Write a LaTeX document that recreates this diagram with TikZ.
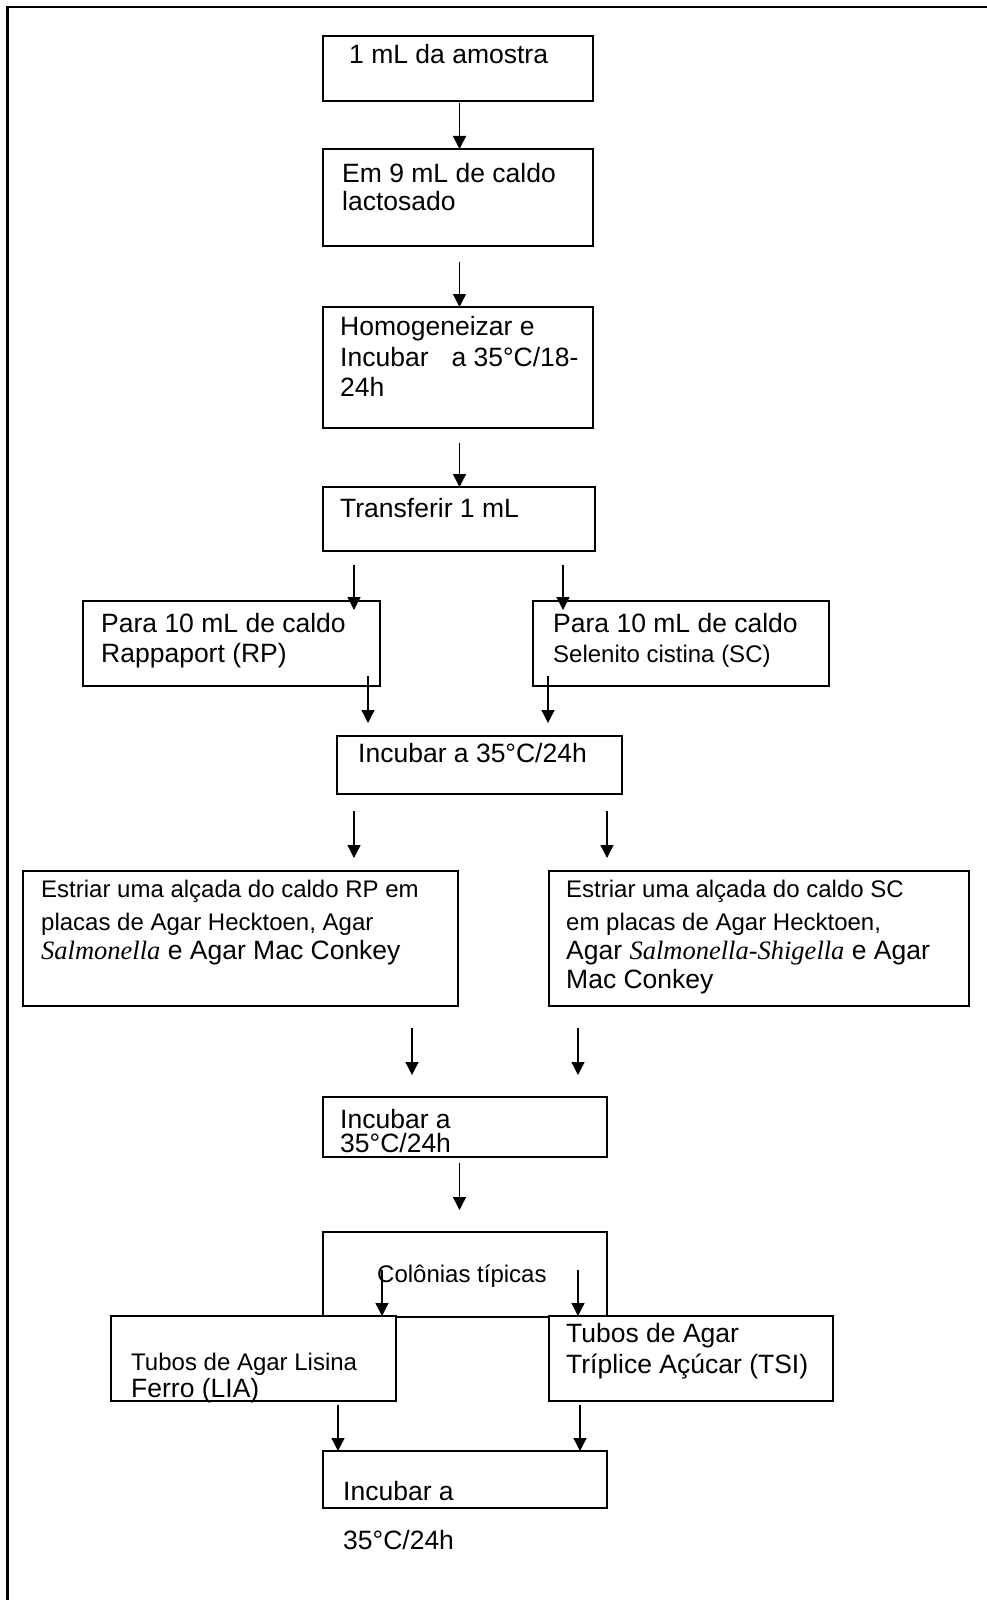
\documentclass[tikz,border=0pt]{standalone}
\usepackage{fontspec}
\setmainfont{Liberation Sans}
\newfontfamily\tnr{Liberation Serif}
\usetikzlibrary{arrows.meta,calc}
\begin{document}
\begin{tikzpicture}[x=1pt,y=-1pt,
  box/.style={draw, line width=1.8pt, fill=white, anchor=north west, inner sep=0pt, outer sep=0pt},
  big/.style={anchor=base west, inner sep=0pt, font=\fontsize{26.5}{30}\selectfont},
  small/.style={anchor=base west, inner sep=0pt, font=\fontsize{24}{28}\selectfont},
  arr/.style={line width=1.3pt, -{Triangle[length=13pt,width=13pt]}}]
\useasboundingbox (0,0) rectangle (987,1600);
% outer frame (only top and left visible)
\draw[line width=2pt] (7.5,6.8) -- (990,6.8);
\draw[line width=3pt] (7.5,5.8) -- (7.5,1605);

% boxes
\node[box, minimum width=270pt, minimum height=65pt]  (b1)  at (323,36)   {};
\node[box, minimum width=270pt, minimum height=97pt]  (b2)  at (323,149)  {};
\node[box, minimum width=270pt, minimum height=121pt] (b3)  at (323,307)  {};
\node[box, minimum width=272pt, minimum height=64pt]  (b4)  at (323,487)  {};
\node[box, minimum width=297pt, minimum height=85pt]  (b5)  at (83,601)   {};
\node[box, minimum width=296pt, minimum height=85pt]  (b6)  at (533,601)  {};
\node[box, minimum width=285pt, minimum height=58pt]  (b7)  at (337,736)  {};
\node[box, minimum width=435pt, minimum height=135pt] (b8)  at (23,871)   {};
\node[box, minimum width=420pt, minimum height=135pt] (b9)  at (549,871)  {};
\node[box, minimum width=284pt, minimum height=60pt]  (b10) at (323,1097) {};
\node[box, minimum width=284pt, minimum height=85pt]  (b11) at (323,1232) {};
\node[box, minimum width=285pt, minimum height=85pt]  (b12) at (111,1316) {};
\node[box, minimum width=284pt, minimum height=85pt]  (b13) at (549,1316) {};
\node[box, minimum width=284pt, minimum height=57pt]  (b14) at (323,1451) {};

% texts
\node[big] (t1) at (349,64) {1 mL da amostra};
\node[big] (t2a) at (342,182) {Em 9 mL de caldo};
\node[big] (t2b) at (342,210) {lactosado};
\node[big] (t3a) at (340,335) {Homogeneizar e};
\node[big] (t3b) at (340,366) {Incubar\hspace{23pt}a 35°C/18-};
\node[big] (t3c) at (340,396) {24h};
\node[big] (t4) at (340,517) {Transferir 1 mL};
\node[big] (t5a) at (101,632) {Para 10 mL de caldo};
\node[big] (t5b) at (101,662) {Rappaport (RP)};
\node[big] (t6a) at (553,632) {Para 10 mL de caldo};
\node[small] (t6b) at (553,662) {Selenito cistina (SC)};
\node[big] (t7) at (358,762) {Incubar a 35°C/24h};
\node[small] (t8a) at (41,897) {Estriar uma alçada do caldo RP em};
\node[small] (t8b) at (41,930) {placas de Agar Hecktoen, Agar};
\node[big] (t8c) at (41,959) {{\tnr\itshape Salmonella} e Agar Mac Conkey};
\node[small] (t9a) at (566,897) {Estriar uma alçada do caldo SC};
\node[small] (t9b) at (566,930) {em placas de Agar Hecktoen,};
\node[big] (t9c) at (566,959) {Agar {\tnr\itshape Salmonella-Shigella} e Agar};
\node[big] (t9d) at (566,988) {Mac Conkey};
\node[big] (t10a) at (340,1128) {Incubar a};
\node[big] (t10b) at (340,1152) {35°C/24h};
\node[small] (t11) at (377,1282) {Colônias típicas};
\node[small] (t12a) at (131,1370) {Tubos de Agar Lisina};
\node[big] (t12b) at (131,1397) {Ferro (LIA)};
\node[big] (t13a) at (566,1342) {Tubos de Agar};
\node[big] (t13b) at (566,1373) {Tríplice Açúcar (TSI)};
\node[big] (t14a) at (343,1500) {Incubar a};
\node[big] (t14b) at (343,1549) {35°C/24h};

% arrow start points
\coordinate (s1) at (459.5,103);
\coordinate (s2) at (459.5,262);
\coordinate (s3) at (459.5,443);
\coordinate (s4a) at (354,565);
\coordinate (s4b) at (563,565);
\coordinate (s5a) at (368,676);
\coordinate (s5b) at (548,676);
\coordinate (s6a) at (354,811);
\coordinate (s6b) at (607,811);
\coordinate (s7a) at (412,1028);
\coordinate (s7b) at (578,1028);
\coordinate (s8) at (459.5,1163);
\coordinate (s9a) at (382,1270);
\coordinate (s9b) at (578,1270);
\coordinate (s10a) at (338,1405);
\coordinate (s10b) at (580,1405);

% arrows
\draw[arr] (s1) -- (s1 |- b2.north);
\draw[arr] (s2) -- (s2 |- b3.north);
\draw[arr] (s3) -- (s3 |- b4.north);
\draw[arr] (s4a) -- ($(s4a |- b5.north)+(0,9)$);
\draw[arr] (s4b) -- ($(s4b |- b6.north)+(0,9)$);
\draw[arr] (s5a) -- ($(s5a |- b7.north)+(0,-13)$);
\draw[arr] (s5b) -- ($(s5b |- b7.north)+(0,-13)$);
\draw[arr] (s6a) -- ($(s6a |- b8.north)+(0,-13)$);
\draw[arr] (s6b) -- ($(s6b |- b9.north)+(0,-13)$);
\draw[arr] (s7a) -- ($(s7a |- b10.north)+(0,-22)$);
\draw[arr] (s7b) -- ($(s7b |- b10.north)+(0,-22)$);
\draw[arr] (s8) -- ($(s8 |- b11.north)+(0,-22)$);
\draw[arr] (s9a) -- (s9a |- b12.north);
\draw[arr] (s9b) -- (s9b |- b13.north);
\draw[arr] (s10a) -- (s10a |- b14.north);
\draw[arr] (s10b) -- (s10b |- b14.north);
\end{tikzpicture}
\end{document}
